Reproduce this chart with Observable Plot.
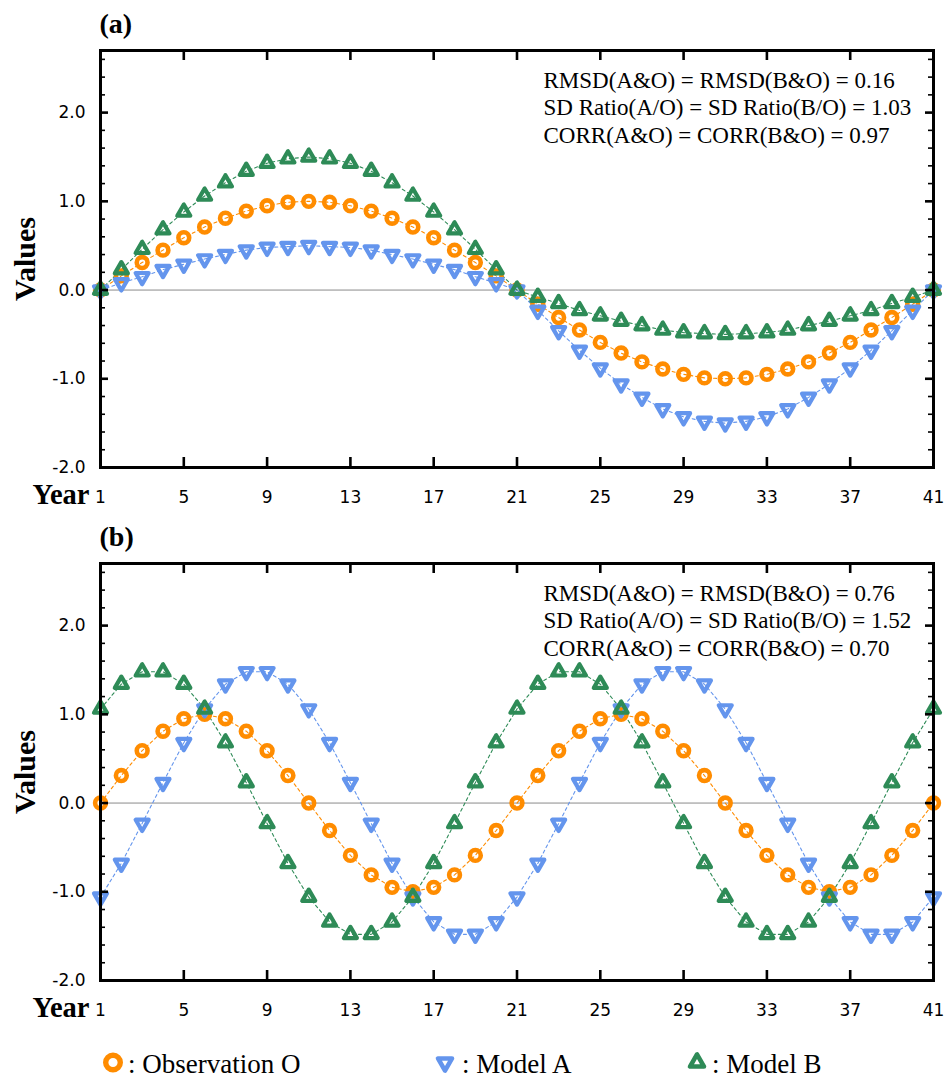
<!DOCTYPE html>
<html>
<head>
<meta charset="utf-8">
<script src="https://cdn.jsdelivr.net/npm/d3@7"></script>
<script src="https://cdn.jsdelivr.net/npm/@observablehq/plot@0.6"></script>
<style>
  body { margin: 0; background: #fff; }
  #root { position: relative; width: 947px; height: 1079px; overflow: hidden; background: #fff; }
  .panel { position: absolute; left: 0; }
  #legend { position: absolute; left: 0; top: 1036px; }
</style>
</head>
<body>
<div id="root"></div>
<script>
// ---------------- data ----------------
const years = [1,2,3,4,5,6,7,8,9,10,11,12,13,14,15,16,17,18,19,20,21,22,23,24,25,26,27,28,29,30,31,32,33,34,35,36,37,38,39,40,41];

// panel (a)
const obsA = [0, 0.16, 0.31, 0.45, 0.59, 0.71, 0.81, 0.89, 0.95, 0.99, 1.00, 0.99, 0.95, 0.89, 0.81, 0.71, 0.59, 0.45, 0.31, 0.16, 0,
  -0.16, -0.31, -0.45, -0.59, -0.71, -0.81, -0.89, -0.95, -0.99, -1.00, -0.99, -0.95, -0.89, -0.81, -0.71, -0.59, -0.45, -0.31, -0.16, 0];
const modelA_a = [0, 0.08, 0.15, 0.23, 0.29, 0.35, 0.40, 0.45, 0.48, 0.49, 0.50, 0.49, 0.48, 0.45, 0.40, 0.35, 0.29, 0.23, 0.15, 0.08, 0,
  -0.23, -0.46, -0.68, -0.88, -1.06, -1.21, -1.34, -1.43, -1.48, -1.50, -1.48, -1.43, -1.34, -1.21, -1.06, -0.88, -0.68, -0.46, -0.23, 0];
const modelB_a = [0, 0.23, 0.46, 0.68, 0.88, 1.06, 1.21, 1.34, 1.43, 1.48, 1.50, 1.48, 1.43, 1.34, 1.21, 1.06, 0.88, 0.68, 0.46, 0.23, 0,
  -0.08, -0.15, -0.23, -0.29, -0.35, -0.40, -0.45, -0.48, -0.49, -0.50, -0.49, -0.48, -0.45, -0.40, -0.35, -0.29, -0.23, -0.15, -0.08, 0];

// panel (b)
const obsB = [0, 0.31, 0.59, 0.81, 0.95, 1.00, 0.95, 0.81, 0.59, 0.31, 0, -0.31, -0.59, -0.81, -0.95, -1.00, -0.95, -0.81, -0.59, -0.31, 0,
  0.31, 0.59, 0.81, 0.95, 1.00, 0.95, 0.81, 0.59, 0.31, 0, -0.31, -0.59, -0.81, -0.95, -1.00, -0.95, -0.81, -0.59, -0.31, 0];
const modelA_b = [-1.06, -0.68, -0.23, 0.23, 0.68, 1.06, 1.34, 1.48, 1.48, 1.34, 1.06, 0.68, 0.23, -0.23, -0.68, -1.06, -1.34, -1.48, -1.48, -1.34, -1.06,
  -0.68, -0.23, 0.23, 0.68, 1.06, 1.34, 1.48, 1.48, 1.34, 1.06, 0.68, 0.23, -0.23, -0.68, -1.06, -1.34, -1.48, -1.48, -1.34, -1.06];
const modelB_b = [1.06, 1.34, 1.48, 1.48, 1.34, 1.06, 0.68, 0.23, -0.23, -0.68, -1.06, -1.34, -1.48, -1.48, -1.34, -1.06, -0.68, -0.23, 0.23, 0.68, 1.06,
  1.34, 1.48, 1.48, 1.34, 1.06, 0.68, 0.23, -0.23, -0.68, -1.06, -1.34, -1.48, -1.48, -1.34, -1.06, -0.68, -0.23, 0.23, 0.68, 1.06];

const xTicks = [1, 5, 9, 13, 17, 21, 25, 29, 33, 37, 41];
const xTickLabels = ["1", "5", "9", "13", "17", "21", "25", "29", "33", "37", "41"];
const yTicks = [-2, -1, 0, 1, 2];
const yTickLabels = ["-2.0", "-1.0", "0.0", "1.0", "2.0"];
const yMinorTicks = [-1.8, -1.6, -1.4, -1.2, -0.8, -0.6, -0.4, -0.2, 0.2, 0.4, 0.6, 0.8, 1.2, 1.4, 1.6, 1.8, 2.2, 2.4, 2.6];

const seriesNames = ["Observation O", "Model A", "Model B"];
const colors = ["#FF8C00", "#6495ED", "#2E8B57"];
const panelLabels = ["(a)", "(b)"];
const statsA = ["RMSD(A&O) = RMSD(B&O) = 0.16", "SD Ratio(A/O) = SD Ratio(B/O) = 1.03", "CORR(A&O) = CORR(B&O) = 0.97"];
const statsB = ["RMSD(A&O) = RMSD(B&O) = 0.76", "SD Ratio(A/O) = SD Ratio(B/O) = 1.52", "CORR(A&O) = CORR(B&O) = 0.70"];
const xLabel = "Year";
const yLabel = "Values";

// ---------------- symbols ----------------
function triangle(side, dir) {
  const h = side * Math.sqrt(3) / 2;
  return {
    draw(ctx) {
      ctx.moveTo(0, -dir * 2 * h / 3);
      ctx.lineTo(-side / 2, dir * h / 3);
      ctx.lineTo(side / 2, dir * h / 3);
      ctx.closePath();
    }
  };
}
const triUp = triangle(13, 1);
const triDown = triangle(13, -1);

const serif = "'Liberation Serif', 'Times New Roman', serif";
const sans = "'DejaVu Sans', sans-serif";

// ---------------- panels ----------------
function makePanel(obs, mA, mB, label, stats) {
  const W = 947, H = 512, mt = 50, mb = 45, ml = 100, mr = 14;
  const fw = W - ml - mr, fh = H - mt - mb;
  const rows = s => years.map((t, i) => ({t, v: s[i]}));
  const series = [obs, mA, mB].map(rows);
  const inner = xTicks.slice(1, -1);
  return Plot.plot({
    width: W, height: H,
    marginTop: mt, marginBottom: mb, marginLeft: ml, marginRight: mr,
    x: {domain: [1, 41], axis: null},
    y: {domain: [-2, 2.7], axis: null},
    style: {background: "white", overflow: "visible"},
    marks: [
      Plot.ruleY([0], {stroke: "#8a8a8a", strokeWidth: 1}),
      ...series.map((d, i) => Plot.line(d, {x: "t", y: "v", stroke: colors[i], strokeWidth: 1.1, strokeDasharray: "3,3"})),
      Plot.dot(series[0], {x: "t", y: "v", r: 5.4, stroke: colors[0], strokeWidth: 4.6, fill: "none"}),
      Plot.dot(series[1], {x: "t", y: "v", symbol: triDown, stroke: colors[1], strokeWidth: 4.2, strokeLinejoin: "round", fill: "none"}),
      Plot.dot(series[2], {x: "t", y: "v", symbol: triUp, stroke: colors[2], strokeWidth: 4.2, strokeLinejoin: "round", fill: "none"}),
      Plot.frame({stroke: "black", strokeWidth: 3}),
      // x ticks (inward, bottom & top)
      Plot.ruleX(inner, {x: d => d, insetTop: fh - 10, stroke: "black", strokeWidth: 2.6}),
      Plot.ruleX(inner, {x: d => d, insetBottom: fh - 10, stroke: "black", strokeWidth: 2.6}),
      // y ticks major (left & right)
      Plot.ruleY(yTicks, {y: d => d, insetRight: fw - 8, stroke: "black", strokeWidth: 2.6}),
      Plot.ruleY(yTicks, {y: d => d, insetLeft: fw - 8, stroke: "black", strokeWidth: 2.6}),
      // y ticks minor
      Plot.ruleY(yMinorTicks, {y: d => d, insetRight: fw - 5, stroke: "black", strokeWidth: 1.6}),
      Plot.ruleY(yMinorTicks, {y: d => d, insetLeft: fw - 5, stroke: "black", strokeWidth: 1.6}),
      // axis labels
      Plot.axisX({ticks: xTicks, tickSize: 0, tickPadding: 23, tickFormat: d => xTickLabels[xTicks.indexOf(d)], fontSize: 17, fontFamily: sans, label: null}),
      Plot.axisY({ticks: yTicks, tickSize: 0, tickPadding: 15, tickFormat: d => yTickLabels[yTicks.indexOf(d)], fontSize: 17, fontFamily: sans, label: null}),
      Plot.text([label], {text: d => d, frameAnchor: "top-left", dx: -1, dy: -18, textAnchor: "start", lineAnchor: "bottom", fontSize: 28, fontWeight: "bold", fontFamily: serif, fill: "black"}),
      Plot.text([yLabel], {text: d => d, frameAnchor: "left", dx: -75, rotate: -90, textAnchor: "middle", lineAnchor: "middle", fontSize: 30, fontWeight: "bold", fontFamily: serif, fill: "black"}),
      Plot.text([xLabel], {text: d => d, frameAnchor: "bottom-left", dx: -11, dy: 36, textAnchor: "end", lineAnchor: "bottom", fontSize: 28.5, fontWeight: "bold", fontFamily: serif, fill: "black"}),
      Plot.text([stats.join("\n")], {text: d => d, frameAnchor: "top-left", dx: 443, dy: 18, textAnchor: "start", lineAnchor: "top", lineHeight: 1.19, fontSize: 23, fontFamily: serif, fill: "black"})
    ]
  });
}

const root = document.getElementById("root");
const pa = makePanel(obsA, modelA_a, modelB_a, panelLabels[0], statsA);
pa.classList.add("panel"); pa.style.top = "0px";
root.appendChild(pa);
const pb = makePanel(obsB, modelA_b, modelB_b, panelLabels[1], statsB);
pb.classList.add("panel"); pb.style.top = "513px";
root.appendChild(pb);

// ---------------- legend ----------------
const legendItems = [
  {name: seriesNames[0], color: colors[0], shape: "circle", mx: 113, tx: 128},
  {name: seriesNames[1], color: colors[1], shape: "down", mx: 445, tx: 462},
  {name: seriesNames[2], color: colors[2], shape: "up", mx: 697, tx: 712}
];
const lg = d3.create("svg").attr("id", "legend").attr("width", 947).attr("height", 43);
const cy = 1062.5 - 1036;
for (const it of legendItems) {
  if (it.shape === "circle") {
    lg.append("circle").attr("cx", it.mx).attr("cy", cy).attr("r", 7.3)
      .attr("fill", "none").attr("stroke", it.color).attr("stroke-width", 5.4);
  } else {
    const p = d3.path();
    (it.shape === "up" ? triangle(14, 1) : triangle(14, -1)).draw(p);
    lg.append("path").attr("d", p.toString()).attr("transform", `translate(${it.mx},${cy})`)
      .attr("fill", "none").attr("stroke", it.color).attr("stroke-width", 4.6).attr("stroke-linejoin", "round");
  }
  lg.append("text").attr("x", it.tx).attr("y", 1073 - 1036)
    .attr("font-family", serif).attr("font-size", 27).attr("fill", "black")
    .text(": " + it.name);
}
root.appendChild(lg.node());
</script>
</body>
</html>
